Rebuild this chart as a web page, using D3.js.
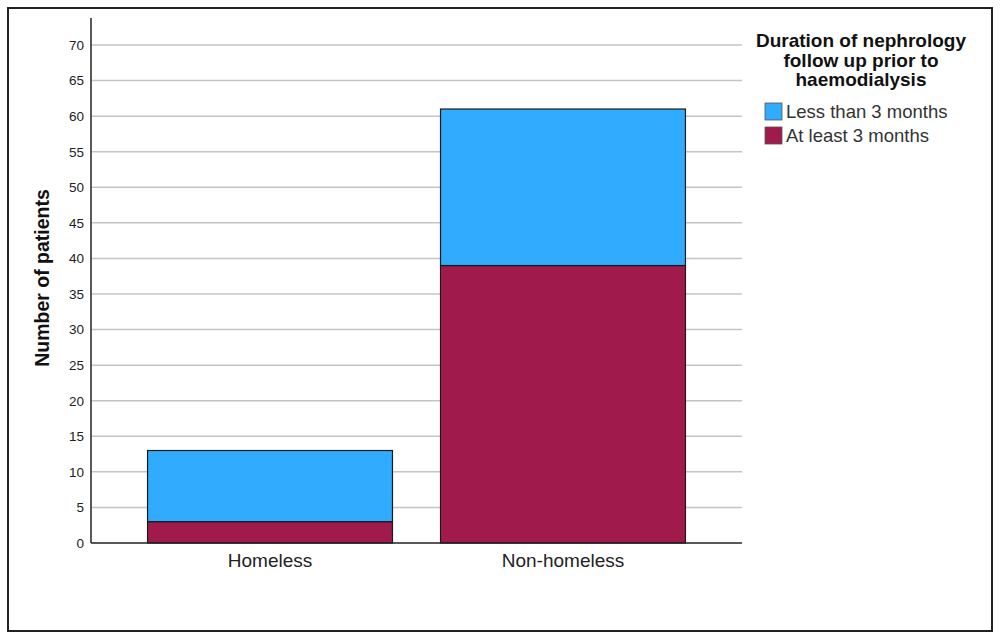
<!DOCTYPE html>
<html><head><meta charset="utf-8">
<script src="https://cdn.jsdelivr.net/npm/d3@7"></script>
<style>body{margin:0;background:#fff;}svg{display:block;font-family:Arial,"Liberation Sans",sans-serif;}</style>
</head><body>
<svg id="c" width="1000" height="640"></svg>
<script>
const categories = ["Homeless", "Non-homeless"];
const seriesNames = ["At least 3 months", "Less than 3 months"];
const atLeast3 = [3, 39];
const lessThan3 = [10, 22];
const yTicks = [0,5,10,15,20,25,30,35,40,45,50,55,60,65,70];
const legendTitle = ["Duration of nephrology", "follow up prior to", "haemodialysis"];
const legendOrder = ["Less than 3 months", "At least 3 months"];
const colors = {"Less than 3 months": "#30abfe", "At least 3 months": "#a11a4c"};

const svg = d3.select("#c");
svg.append("rect").attr("x",8).attr("y",8).attr("width",984).attr("height",623)
  .attr("fill","none").attr("stroke","#222").attr("stroke-width",2);

const left = 91, right = 742, bottom = 543;
const y = d3.scaleLinear().domain([0,70]).range([543,45]);
const x = d3.scaleBand().domain(categories).range([left, right]).paddingInner(0.164).paddingOuter(0.193);

// gridlines
svg.append("g").selectAll("line").data(yTicks.filter(d=>d>0)).join("line")
  .attr("x1",left+1).attr("x2",right).attr("y1",d=>y(d)).attr("y2",d=>y(d))
  .attr("stroke","#c4c4c4").attr("stroke-width",1.5);

// y axis
const yAxis = svg.append("g").attr("transform",`translate(${left},0)`)
  .call(d3.axisLeft(y).tickValues(yTicks).tickSize(0).tickPadding(7));
yAxis.select(".domain").remove();
yAxis.selectAll("text").attr("font-size",13.5).attr("fill","#222").attr("font-family","Arial,'Liberation Sans',sans-serif");
svg.append("line").attr("x1",left).attr("x2",left).attr("y1",18).attr("y2",bottom).attr("stroke","#222").attr("stroke-width",1.5);

// stacked data
const rows = categories.map((c,i)=>({cat:c, "At least 3 months":atLeast3[i], "Less than 3 months":lessThan3[i]}));
const stack = d3.stack().keys(seriesNames)(rows);
svg.append("g").selectAll("g").data(stack).join("g")
  .attr("fill",d=>colors[d.key])
  .selectAll("rect").data(d=>d).join("rect")
  .attr("x",d=>x(d.data.cat)).attr("width",x.bandwidth())
  .attr("y",d=>y(d[1])).attr("height",d=>y(d[0])-y(d[1]))
  .attr("stroke","#1a1a1a").attr("stroke-width",1.2);

// x axis
const xAxis = svg.append("g").attr("transform",`translate(0,${bottom})`)
  .call(d3.axisBottom(x).tickSize(0).tickPadding(11));
xAxis.select(".domain").remove();
xAxis.selectAll("text").attr("font-size",19).attr("fill","#222").attr("font-family","Arial,'Liberation Sans',sans-serif");
svg.append("line").attr("x1",left).attr("x2",right).attr("y1",bottom).attr("y2",bottom).attr("stroke","#222").attr("stroke-width",1.5);

// y title
svg.append("text").attr("transform","translate(49,278) rotate(-90)").attr("text-anchor","middle")
  .attr("font-size",19.5).attr("font-weight","bold").attr("fill","#111").text("Number of patients");

// legend
const lg = svg.append("g");
lg.selectAll("text.t").data(legendTitle).join("text").attr("class","t")
  .attr("x",861).attr("y",(d,i)=>47+i*19.5).attr("text-anchor","middle")
  .attr("font-size",19).attr("font-weight","bold").attr("fill","#111").text(d=>d);
const items = lg.selectAll("g.i").data(legendOrder).join("g").attr("class","i")
  .attr("transform",(d,i)=>`translate(765,${103+i*24})`);
items.append("rect").attr("width",17).attr("height",17).attr("fill",d=>colors[d])
  .attr("stroke","#555").attr("stroke-width",0.8);
items.append("text").attr("x",21).attr("y",15).attr("font-size",18.5).attr("fill","#333").text(d=>d);
</script>
</body></html>
